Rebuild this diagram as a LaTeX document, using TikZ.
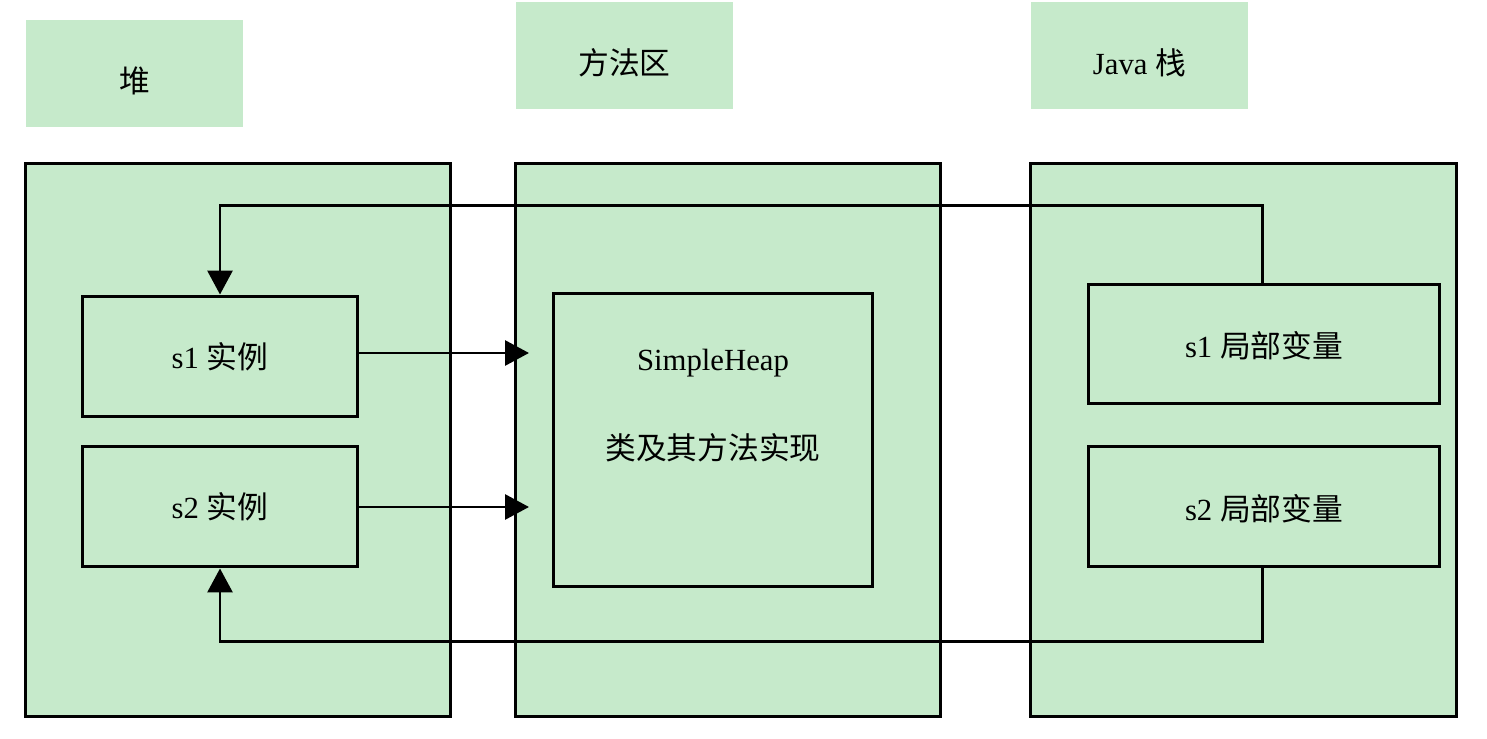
\documentclass[tikz,border=0pt]{standalone}
\usepackage{fontspec}
\setmainfont{Liberation Serif}
\newfontfamily\cjk{Noto Sans CJK SC}
\usetikzlibrary{arrows.meta}
\definecolor{areagreen}{RGB}{198,234,203}

\begin{document}
\begin{tikzpicture}[x=0.02cm, y=-0.02cm,
  txt/.style={font=\fontsize{17.5}{21}\selectfont},
  title/.style={txt, fill=areagreen, minimum width=4.34cm, minimum height=2.14cm, text height=0.84cm, text depth=0.07cm},
  area/.style={draw, fill=areagreen, line width=1.7pt, minimum width=8.52cm, minimum height=11.08cm},
  item/.style={txt, draw, fill=areagreen, line width=1.7pt, minimum width=5.52cm, minimum height=2.42cm},
  link/.style={line width=1.7pt, -{Triangle[length=0.48cm, width=0.5cm]}}]
\useasboundingbox (0,0) rectangle (1487,739);

% titles
\node [title] (heapT) at (134.5,73.5) {\cjk 堆};
\node [title] (methT) at (624.5,55.5) {\cjk 方法区};
\node [title] (stackT) at (1139.5,55.5) {Java {\cjk 栈}};

% areas
\node [area] (heap) at (238,440) {};
\node [area] (meth) at (728,440) {};
\node [area] (stack) at (1243.5,440) {};

% heap instances
\node [item] (s1inst) at (220,356.5) {s1 {\cjk 实例}};
\node [item] (s2inst) at (220,506.5) {s2 {\cjk 实例}};

% class in method area
\node [draw, fill=areagreen, line width=1.7pt, minimum width=6.4cm, minimum height=5.88cm] (cls) at (713,440) {};
\node [txt, align=center] (clsT) at (713,406) {SimpleHeap\\[1.04cm]{\cjk 类及其方法实现}};

% local variables
\node [item, minimum width=7.04cm, minimum height=2.4cm, text height=0.62cm, text depth=0.07cm] (s1var) at (1264,344) {s1 {\cjk 局部变量}};
\node [item, minimum width=7.04cm, text height=0.62cm, text depth=0.07cm] (s2var) at (1264,506.5) {s2 {\cjk 局部变量}};

\coordinate (in1) at (529,353);
\coordinate (in2) at (529,507);

\draw [link] (s1inst.east |- in1) -- (in1);
\draw [link] (s2inst.east |- in2) -- (in2);
\draw [link] ([xshift=-0.04cm]s1var.north) -- ++(0,-77) -| (s1inst.north);
\draw [link] ([xshift=-0.04cm]s2var.south) -- ++(0,73) -| (s2inst.south);
\end{tikzpicture}
\end{document}
